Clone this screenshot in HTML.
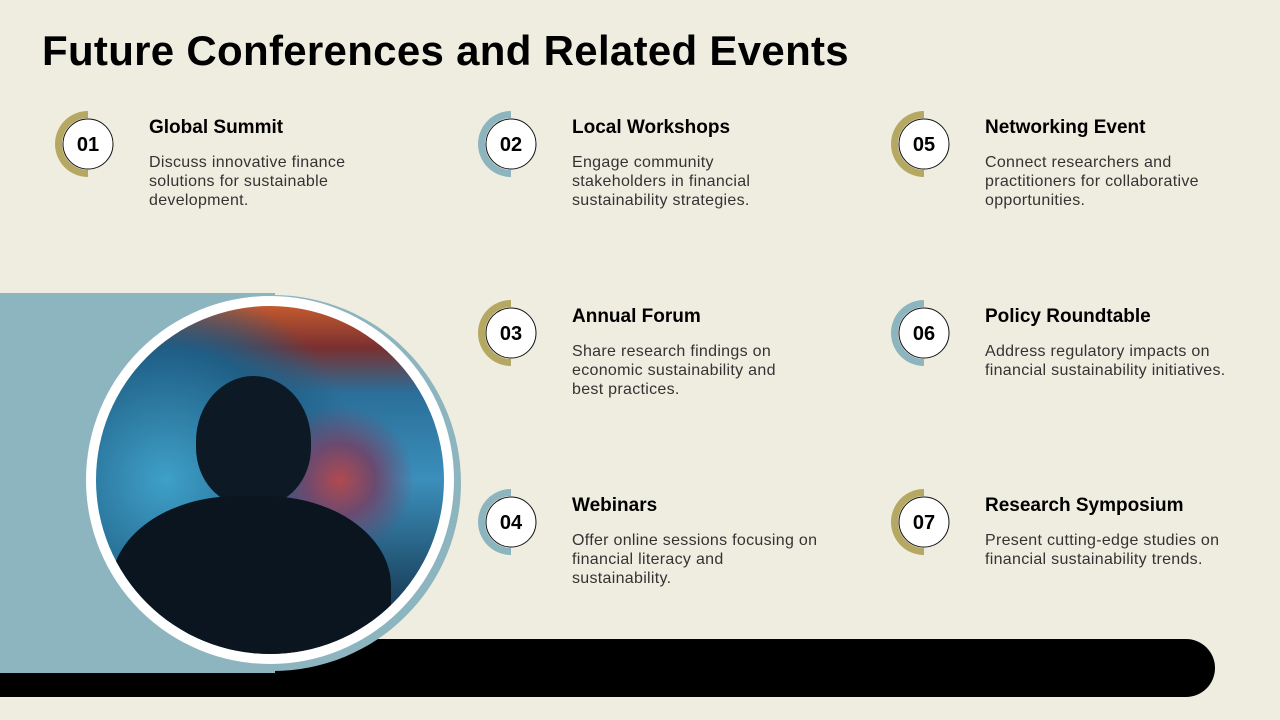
<!DOCTYPE html>
<html><head><meta charset="utf-8"><style>
body{margin:0;width:1280px;height:720px;background:#efede0;position:relative;overflow:hidden;font-family:"Liberation Sans",sans-serif;color:#111}
h1{position:absolute;left:42px;top:27px;margin:0;font-size:42px;font-weight:bold;letter-spacing:0.3px;color:#000}
.t{position:absolute;font-size:19px;font-weight:bold;color:#000}
.d{position:absolute;font-size:16px;line-height:19px;color:#333;letter-spacing:0.3px}
</style></head><body>
<h1>Future Conferences and Related Events</h1>
<div style="position:absolute;left:0;top:639px;width:1215px;height:58px;background:#000;border-radius:0 29px 29px 0"></div>
<div style="position:absolute;left:0;top:293px;width:275px;height:380px;background:#8db5bf"></div>
<div style="position:absolute;left:85px;top:295px;width:376px;height:376px;border-radius:50%;background:#8db5bf"></div>
<div style="position:absolute;left:86px;top:296px;width:368px;height:368px;border-radius:50%;background:#fff"></div>
<div style="position:absolute;left:96px;top:306px;width:348px;height:348px;border-radius:50%;overflow:hidden;background:radial-gradient(circle at 70% 50%,#b04a50 0,#6a4a70 12%,transparent 25%),radial-gradient(circle at 20% 50%,#3fa0c8 0,#1f5e85 40%,transparent 60%),linear-gradient(180deg,#c25a2f 0,#7a3030 12%,#2a6f9a 25%,#3b8fbb 50%,#1e4a68 80%,#0d2235 100%)">
<div style="position:absolute;left:100px;top:70px;width:115px;height:130px;border-radius:50% 50% 45% 45%;background:#0d1a26"></div>
<div style="position:absolute;left:15px;top:190px;width:280px;height:200px;border-radius:45% 45% 0 0;background:#0a1520"></div>
</div>
<svg width="1280" height="720" style="position:absolute;left:0;top:0">
<g font-family="Liberation Sans" font-weight="bold" font-size="20" text-anchor="middle">
<path d="M88 111 A33 33 0 0 0 88 177 L88 170 A26 26 0 0 1 88 118Z" fill="#b5a862"/>
<circle cx="88" cy="144" r="25" fill="#fff" stroke="#111"/><text x="88" y="151">01</text>
<path d="M511 111 A33 33 0 0 0 511 177 L511 170 A26 26 0 0 1 511 118Z" fill="#8db5bf"/>
<circle cx="511" cy="144" r="25" fill="#fff" stroke="#111"/><text x="511" y="151">02</text>
<path d="M511 300 A33 33 0 0 0 511 366 L511 359 A26 26 0 0 1 511 307Z" fill="#b5a862"/>
<circle cx="511" cy="333" r="25" fill="#fff" stroke="#111"/><text x="511" y="340">03</text>
<path d="M511 489 A33 33 0 0 0 511 555 L511 548 A26 26 0 0 1 511 496Z" fill="#8db5bf"/>
<circle cx="511" cy="522" r="25" fill="#fff" stroke="#111"/><text x="511" y="529">04</text>
<path d="M924 111 A33 33 0 0 0 924 177 L924 170 A26 26 0 0 1 924 118Z" fill="#b5a862"/>
<circle cx="924" cy="144" r="25" fill="#fff" stroke="#111"/><text x="924" y="151">05</text>
<path d="M924 300 A33 33 0 0 0 924 366 L924 359 A26 26 0 0 1 924 307Z" fill="#8db5bf"/>
<circle cx="924" cy="333" r="25" fill="#fff" stroke="#111"/><text x="924" y="340">06</text>
<path d="M924 489 A33 33 0 0 0 924 555 L924 548 A26 26 0 0 1 924 496Z" fill="#b5a862"/>
<circle cx="924" cy="522" r="25" fill="#fff" stroke="#111"/><text x="924" y="529">07</text>
</g></svg>
<div class="t" style="left:149px;top:117px">Global Summit</div>
<div class="d" style="left:149px;top:153px;width:210px">Discuss innovative finance solutions for sustainable development.</div>
<div class="t" style="left:572px;top:117px">Local Workshops</div>
<div class="d" style="left:572px;top:153px;width:195px">Engage community stakeholders in financial sustainability strategies.</div>
<div class="t" style="left:572px;top:306px">Annual Forum</div>
<div class="d" style="left:572px;top:342px;width:225px">Share research findings on economic sustainability and best practices.</div>
<div class="t" style="left:572px;top:495px">Webinars</div>
<div class="d" style="left:572px;top:531px;width:255px">Offer online sessions focusing on financial literacy and sustainability.</div>
<div class="t" style="left:985px;top:117px">Networking Event</div>
<div class="d" style="left:985px;top:153px;width:220px">Connect researchers and practitioners for collaborative opportunities.</div>
<div class="t" style="left:985px;top:306px">Policy Roundtable</div>
<div class="d" style="left:985px;top:342px;width:250px">Address regulatory impacts on financial sustainability initiatives.</div>
<div class="t" style="left:985px;top:495px">Research Symposium</div>
<div class="d" style="left:985px;top:531px;width:250px">Present cutting-edge studies on financial sustainability trends.</div>
</body></html>
